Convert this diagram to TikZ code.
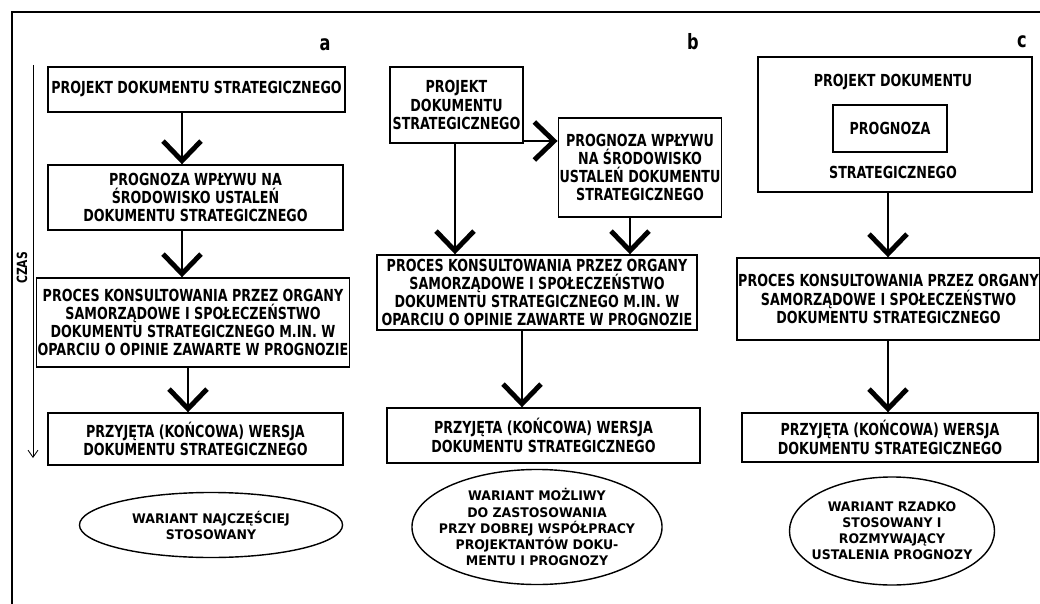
\documentclass[tikz,border=0pt]{standalone}
\usepackage{fontspec}
\setmainfont[FakeStretch=0.85]{DejaVu Sans Condensed}
\newfontfamily\ovalfont[FakeStretch=1.05]{DejaVu Sans Condensed}
\usetikzlibrary{arrows.meta,shapes.geometric}
\tikzset{
  box/.style={draw,line width=1pt,inner sep=1pt,align=center,font=\bfseries\fontsize{11.8}{13}\selectfont},
  oval/.style={draw,ellipse,line width=1pt,inner sep=0pt},
  ovaltext/.style={align=center,inner sep=0pt,font=\ovalfont\bfseries\fontsize{9.4}{11.4}\selectfont},
  arr/.style={line width=2pt,-{Straight Barb[length=14pt,width=27pt,line width=3.5pt]}},
  lbl/.style={font=\bfseries\fontsize{15}{15}\selectfont}
}
\begin{document}
\begin{tikzpicture}[x=0.025cm,y=-0.025cm]
\useasboundingbox (0,0) rectangle (1040,604);
% frame
\draw[line width=1.5pt] (12,604) -- (12,12) -- (1040,12);
% time axis
\coordinate (t0) at (33,65);
\coordinate (t1) at (33,458);
\draw[line width=0.6pt,-{Straight Barb[length=5pt,width=7pt]}] (t0) -- (t1);
\node[rotate=90,font=\bfseries\fontsize{10}{10}\selectfont] (czas) at (22,268) {CZAS};
% labels
\node[lbl] (la) at (325,45) {a};
\node[lbl] (lb) at (693,42) {b};
\node[lbl] (lc) at (1022,42) {c};

% ---------- column a
\node[box,minimum width=7.425cm,minimum height=1.125cm] (a1) at (196.5,89.5) {PROJEKT DOKUMENTU STRATEGICZNEGO};
\node[box,minimum width=7.375cm,minimum height=1.625cm] (a2) at (195.5,197.5) {PROGNOZA WPŁYWU NA\\ŚRODOWISKO USTALEŃ\\DOKUMENTU STRATEGICZNEGO};
\node[box,minimum width=7.65cm,minimum height=2.225cm] (a3) at (193,322.5) {PROCES KONSULTOWANIA PRZEZ ORGANY\\SAMORZĄDOWE I SPOŁECZEŃSTWO\\DOKUMENTU STRATEGICZNEGO M.IN. W\\OPARCIU O OPINIE ZAWARTE W PROGNOZIE};
\node[box,minimum width=7.375cm,minimum height=1.3cm] (a4) at (195.5,439) {PRZYJĘTA (KOŃCOWA) WERSJA\\DOKUMENTU STRATEGICZNEGO};
\node[oval,minimum width=6.575cm,minimum height=1.625cm] (ea) at (211,525) {};
\node[ovaltext] (eat) at (ea.center) {WARIANT NAJCZĘŚCIEJ\\STOSOWANY};
\coordinate (ax) at (182,0);
\coordinate (ax2) at (188,0);
\draw[arr] (a1.south -| ax) -- (a2.north -| ax);
\draw[arr] (a2.south -| ax) -- (a3.north -| ax);
\draw[arr] (a3.south -| ax2) -- (a4.north -| ax2);

% ---------- column b
\node[box,minimum width=3.325cm,minimum height=1.9cm] (b1) at (456.5,105) {PROJEKT\\DOKUMENTU\\STRATEGICZNEGO};
\node[box,minimum width=3.9cm,minimum height=2.475cm] (b2) at (640,167.5) {PROGNOZA WPŁYWU\\NA ŚRODOWISKO\\USTALEŃ DOKUMENTU\\STRATEGICZNEGO};
\node[box,minimum width=8.0cm,minimum height=1.875cm] (b3) at (537,292.5) {PROCES KONSULTOWANIA PRZEZ ORGANY\\SAMORZĄDOWE I SPOŁECZEŃSTWO\\DOKUMENTU STRATEGICZNEGO M.IN. W\\OPARCIU O OPINIE ZAWARTE W PROGNOZIE};
\node[box,minimum width=7.825cm,minimum height=1.375cm] (b4) at (543.5,435.5) {PRZYJĘTA (KOŃCOWA) WERSJA\\DOKUMENTU STRATEGICZNEGO};
\node[oval,minimum width=6.25cm,minimum height=2.875cm] (eb) at (537,527) {};
\node[ovaltext] (ebt) at (eb.center) {WARIANT MOŻLIWY\\DO ZASTOSOWANIA\\PRZY DOBREJ WSPÓŁPRACY\\PROJEKTANTÓW DOKU-\\MENTU I PROGNOZY};
\coordinate (hy) at (0,141);
\coordinate (bx1) at (455,0);
\coordinate (bx2) at (630,0);
\coordinate (bx3) at (522,0);
\draw[arr] (b1.east |- hy) -- (b2.west |- hy);
\draw[arr] (b1.south -| bx1) -- (b3.north -| bx1);
\draw[arr] (b2.south -| bx2) -- (b3.north -| bx2);
\draw[arr] (b3.south -| bx3) -- (b4.north -| bx3);

% ---------- column c
\node[draw,line width=1pt,minimum width=6.85cm,minimum height=3.375cm] (c1) at (895,124.5) {};
\node[box,draw=none] (c1t) at (893,82) {PROJEKT DOKUMENTU};
\node[box,minimum width=2.85cm,minimum height=1.175cm] (c2) at (890,128.5) {PROGNOZA};
\node[box,draw=none] (c1b) at (893,172) {STRATEGICZNEGO};
\node[box,minimum width=7.575cm,minimum height=2.05cm] (c3) at (888.5,299) {PROCES KONSULTOWANIA PRZEZ ORGANY\\SAMORZĄDOWE I SPOŁECZEŃSTWO\\DOKUMENTU STRATEGICZNEGO};
\node[box,minimum width=7.4cm,minimum height=1.225cm] (c4) at (890,437.5) {PRZYJĘTA (KOŃCOWA) WERSJA\\DOKUMENTU STRATEGICZNEGO};
\node[oval,minimum width=5.125cm,minimum height=2.7cm] (ec) at (892,531) {};
\node[ovaltext] (ect) at (ec.center) {WARIANT RZADKO\\STOSOWANY I\\ROZMYWAJĄCY\\USTALENIA PROGNOZY};
\coordinate (cx) at (888,0);
\draw[arr] (c1.south -| cx) -- (c3.north -| cx);
\draw[arr] (c3.south -| cx) -- (c4.north -| cx);
\end{tikzpicture}
\end{document}
